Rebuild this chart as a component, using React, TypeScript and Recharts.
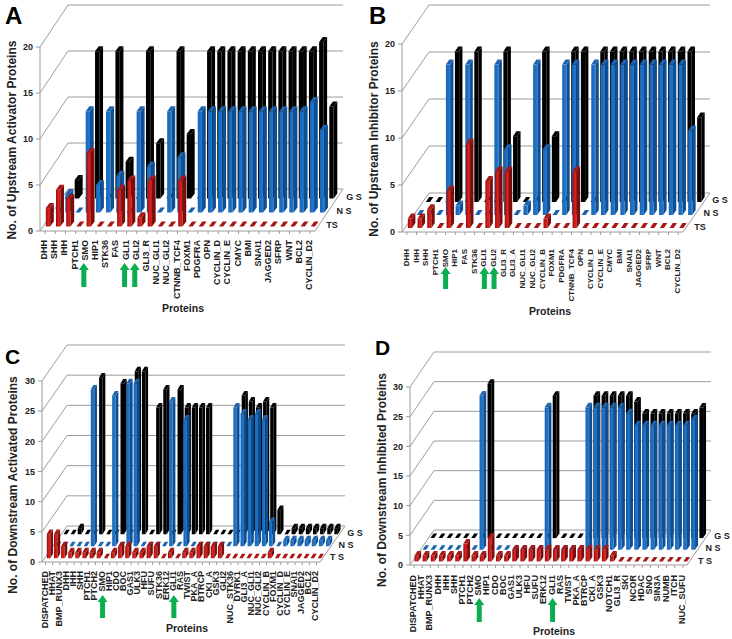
import { BarChart, Bar, XAxis, YAxis, CartesianGrid } from 'recharts';

// Panel A
const proteinsA = ['DHH', 'SHH', 'IHH', 'PTCH1', 'SMO', 'HIP1', 'STK36', 'FAS', 'GLI1', 'GLI2', 'GLI3_R', 'NUC_GLI1', 'NUC_GLI2', 'CTNNB_TCF4', 'FOXM1', 'PDGFRA', 'OPN', 'CYCLIN_D', 'CYCLIN_E', 'CMYC', 'BMI', 'SNAI1', 'JAGGED2', 'SFRP', 'WNT', 'BCL2', 'CYCLIN_D2'];
const tsA = [2, 4, 3, 0, 8, 0, 0, 4, 5, 1, 5, 0, 0, 5, 0, 0, 0, 0, 0, 0, 0, 0, 0, 0, 0, 0, 0];
const nsA = [0, 2, 0, 11, 3, 11, 4, 0, 11, 5, 0, 11, 6, 0, 11, 11, 11, 11, 11, 11, 11, 11, 11, 11, 11, 12, 9];
const gsA = [0, 2, 0, 16, 0, 16, 4, 0, 16, 6, 0, 16, 7, 0, 16, 16, 16, 16, 16, 16, 16, 16, 16, 16, 16, 17, 10];

// Panel B
const proteinsB = ['DHH', 'IHH', 'SHH', 'PTCH1', 'SMO', 'HIP1', 'FAS', 'STK36', 'GLI1', 'GLI2', 'GLI3_R', 'GLI3_A', 'NUC_GLI1', 'NUC_GLI2', 'CYCLIN_B', 'FOXM1', 'PDGFRA', 'CTNNB_TCF4', 'OPN', 'CYCLIN_D', 'CYCLIN_E', 'CMYC', 'BMI', 'SNAI1', 'JAGGED2', 'SFRP', 'WNT', 'BCL2', 'CYCLIN_D2'];
const tsB = [1, 1, 2, 0, 4, 0, 9, 0, 5, 6, 6, 0, 0, 0, 1, 0, 0, 6, 0, 0, 0, 0, 0, 0, 0, 0, 0, 0, 0];
const nsB = [0, 0, 0, 16, 1, 16, 0, 0, 16, 7, 0, 1, 16, 7, 0, 16, 16, 0, 16, 16, 16, 16, 16, 16, 16, 16, 16, 16, 9];
const gsB = [0, 0, 0, 16, 0, 16, 0, 0, 16, 7, 0, 0, 16, 7, 0, 16, 16, 0, 16, 16, 16, 16, 16, 16, 16, 16, 16, 16, 9];

// Panel C
const proteinsC = ['DISPATCHED', 'HHAT', 'BMP_RUNX3', 'DHH', 'IHH', 'SHH', 'PTCH1', 'PTCH2', 'SMO', 'HIP1', 'CDO', 'BOC', 'GAS1', 'ULK3', 'HFU', 'SUFU', 'STK36', 'ERK12', 'GLI1', 'RAS', 'TWIST', 'PKA_A', 'BTRCP', 'CKI_A', 'GSK3', 'GLI2', 'NUC_STK36', 'DYRK1', 'GLI3_A', 'NUC_GLI1', 'NUC_GLI2', 'CYCLIN_B', 'FOXM1', 'CYCLIN_D', 'CYCLIN_E', 'SNAI1', 'JAGGED2', 'BCL2', 'CYCLIN_D2'];
const tsC = [4, 4, 2, 1, 1, 1, 1, 1, 0, 1, 2, 2, 1, 1, 2, 2, 0, 1, 0, 1, 1, 2, 2, 2, 2, 0, 0, 0, 0, 0, 0, 1, 0, 0, 0, 0, 0, 0, 0];
const nsC = [0, 0, 0, 0, 0, 26, 0, 0, 25, 0, 27, 27, 0, 0, 0, 0, 24, 0, 21, 0, 0, 0, 0, 0, 0, 23, 22, 21, 22, 21, 4, 0, 1, 1, 1, 1, 1, 1, 1];
const gsC = [0, 0, 1, 0, 0, 26, 0, 0, 25, 0, 27, 27, 0, 21, 24, 0, 24, 21, 21, 21, 21, 0, 0, 0, 0, 23, 22, 21, 22, 21, 4, 0, 1, 1, 1, 1, 1, 1, 1];

// Panel D
const proteinsD = ['DISPATCHED', 'HHAT', 'BMP_RUNX3', 'DHH', 'IHH', 'SHH', 'PTCH1', 'PTCH2', 'SMO', 'HIP1', 'CDO', 'BOC', 'GAS1', 'ULK3', 'HFU', 'SUFU', 'ERK12', 'GLI1', 'RAS', 'TWIST', 'PKA_A', 'BTRCP', 'CKI_A', 'GSK3', 'NOTCH1', 'GLI3_R', 'SKI', 'NCOR', 'HDAC', 'SNO', 'SIN3A', 'NUMB', 'ITCH', 'NUC_SUFU'];
const tsD = [1, 1, 1, 1, 1, 1, 3, 1, 1, 4, 1, 1, 2, 2, 2, 2, 2, 2, 2, 2, 2, 2, 2, 2, 1, 0, 0, 0, 0, 0, 0, 0, 0, 0];
const nsD = [0, 0, 0, 0, 0, 0, 0, 26, 0, 0, 0, 0, 0, 0, 0, 24, 0, 0, 0, 0, 24, 24, 24, 24, 24, 23, 21, 21, 21, 21, 21, 21, 21, 22];
const gsD = [0, 0, 0, 0, 0, 0, 0, 26, 0, 0, 0, 0, 0, 0, 0, 24, 0, 0, 0, 0, 24, 24, 24, 24, 24, 23, 21, 21, 21, 21, 21, 21, 21, 22];

const FONT = '"Liberation Sans", Arial, sans-serif';
const W = 366;
const H = 320;
const GRID = '#9c9c9c';

const buildRows = (names: string[], ts: number[], ns: number[], gs: number[]) =>
  names.map((name, i) => ({ name, ts: ts[i], ns: ns[i], gs: gs[i] }));

// front face, side face, top face
const seriesFill: any = {
  ts: { side: '#7c0d0d', top: '#a81616' },
  ns: { side: '#0e4f94', top: '#1d63ad' },
  gs: { side: '#000000', top: '#000000' },
};

const Bar3D = ({ x, y, width, height, rowX, rowY, depthX, depthY, series, id }: any) => {
  const l = x + rowX;
  const r = l + width;
  const t = y - rowY;
  const b = t + height;
  const c = seriesFill[series];
  return (
    <g>
      {height > 0 && <rect x={l} y={t} width={width} height={height} fill={`url(#${id}-${series})`} />}
      {height > 0 && <polygon points={`${r},${t} ${r + depthX},${t - depthY} ${r + depthX},${b - depthY} ${r},${b}`} fill={c.side} />}
      <polygon points={`${l},${t} ${l + depthX},${t - depthY} ${r + depthX},${t - depthY} ${r},${t}`} fill={c.top} />
    </g>
  );
};

const ProteinTick = ({ x, y, payload, fontSize, gap, arrows, arrowDx, arrowTop, arrowBottom }: any) => {
  const lx = x - 1;
  const ly = y + gap;
  const ax = x + arrowDx;
  return (
    <g>
      <text x={lx} y={ly} transform={`rotate(-90 ${lx} ${ly})`} dy={3} textAnchor="end" fontSize={fontSize} fontWeight="bold" fontFamily={FONT} fill="#222">
        {payload.value}
      </text>
      {arrows.includes(payload.value) && (
        <polygon
          points={`${ax},${arrowTop} ${ax + 5},${arrowTop + 7} ${ax + 2.5},${arrowTop + 7} ${ax + 2.5},${arrowBottom} ${ax - 2.5},${arrowBottom} ${ax - 2.5},${arrowTop + 7} ${ax - 5},${arrowTop + 7}`}
          fill="#0aae50"
        />
      )}
    </g>
  );
};

const Panel = ({ p }: any) => {
  const grid = (g: any) => (
    <g key={g.key}>
      <line x1={p.x0} y1={g.y1} x2={p.x0 + p.dx} y2={g.y1 - p.dy} stroke={GRID} />
      <line x1={p.x0 + p.dx} y1={g.y1 - p.dy} x2={p.x1 + p.dx} y2={g.y1 - p.dy} stroke={GRID} />
    </g>
  );
  const rowOffset = (row: number) => ({
    rowX: ((row + 0.5) / 3) * p.dx - p.barDepthX / 2,
    rowY: ((row + 0.5) / 3) * p.dy - p.barDepthY / 2,
  });
  const series = ['gs', 'ns', 'ts'];
  return (
    <div style={{ position: 'absolute', left: p.left, top: p.top, width: W, height: H }}>
      <BarChart
        width={W}
        height={H}
        data={p.rows}
        margin={{ top: p.yTop, left: 0, right: W - p.x1, bottom: 0 }}
        barSize={p.barWidth}
        barGap={-p.barWidth}
      >
        <defs>
          <linearGradient id={`${p.id}-ts`} x1="0" x2="1" y1="0" y2="0">
            <stop offset="0%" stopColor="#8d0f0f" />
            <stop offset="60%" stopColor="#e2201a" />
            <stop offset="100%" stopColor="#c21717" />
          </linearGradient>
          <linearGradient id={`${p.id}-ns`} x1="0" x2="1" y1="0" y2="0">
            <stop offset="0%" stopColor="#1764b4" />
            <stop offset="100%" stopColor="#247ad2" />
          </linearGradient>
          <linearGradient id={`${p.id}-gs`} x1="0" x2="1" y1="0" y2="0">
            <stop offset="0%" stopColor="#000" />
            <stop offset="100%" stopColor="#000" />
          </linearGradient>
        </defs>
        <CartesianGrid vertical={false} horizontal={grid} />
        <XAxis
          dataKey="name"
          interval={0}
          height={H - p.yZero}
          tickSize={3}
          tickMargin={0}
          axisLine={{ stroke: GRID }}
          tickLine={{ stroke: GRID }}
          tick={(t: any) => (
            <ProteinTick {...t} fontSize={p.labelSize} gap={p.labelGap} arrows={p.arrows} arrowDx={p.arrowDx} arrowTop={p.arrowTop} arrowBottom={p.arrowBottom} />
          )}
        />
        <YAxis
          type="number"
          width={p.x0}
          domain={[0, p.max]}
          ticks={p.ticks}
          interval={0}
          tickSize={4}
          tickMargin={3}
          axisLine={{ stroke: GRID }}
          tickLine={{ stroke: GRID }}
          tick={{ fontSize: 9, fontWeight: 'bold', fontFamily: FONT, fill: '#222' }}
        />
        {series.map((key, i) => {
          const off = rowOffset(2 - i);
          return (
            <Bar
              key={key}
              dataKey={key}
              isAnimationActive={false}
              shape={(s: any) => (
                <Bar3D {...s} {...off} depthX={p.barDepthX} depthY={p.barDepthY} series={key} id={p.id} />
              )}
            />
          );
        })}
        <line x1={p.x1} y1={p.yZero} x2={p.x1 + p.dx} y2={p.yZero - p.dy} stroke={GRID} />
        <text x={p.letterX} y={p.letterY} fontSize={p.letterSize} fontWeight="bold" fontFamily={FONT} fill="#000">
          {p.letter}
        </text>
        <text
          x={p.yLabelX}
          y={p.yLabelY}
          transform={`rotate(-90 ${p.yLabelX} ${p.yLabelY})`}
          textAnchor="middle"
          fontSize={12}
          fontWeight="bold"
          fontFamily={FONT}
          fill="#222"
        >
          {p.yLabel}
        </text>
        <text x={p.xLabelX} y={p.xLabelY} textAnchor="middle" fontSize={10.5} fontWeight="bold" fontFamily={FONT} fill="#222">
          Proteins
        </text>
        {p.legend.map((l: any) => (
          <text key={l[0]} x={l[1]} y={l[2]} textAnchor="middle" fontSize={9} fontWeight="bold" fontFamily={FONT} fill="#222">
            {l[0]}
          </text>
        ))}
      </BarChart>
    </div>
  );
};

const ticks20 = [0, 5, 10, 15, 20];
const ticks30 = [0, 5, 10, 15, 20, 25, 30];

const panels = [
  {
    id: 'a', letter: 'A', left: 0, top: 0, rows: buildRows(proteinsA, tsA, nsA, gsA),
    x0: 40, x1: 315, yZero: 231, yTop: 47, dx: 28, dy: 42, max: 20, ticks: ticks20,
    barWidth: 4.3, barDepthX: 3.7, barDepthY: 5,
    labelSize: 9, labelGap: 6, arrows: ['SMO', 'GLI1', 'GLI2'], arrowDx: -2, arrowTop: 263, arrowBottom: 287,
    letterX: 5, letterY: 24, letterSize: 24,
    yLabel: 'No. of Upstream Activator Proteins', yLabelX: 16, yLabelY: 140,
    xLabelX: 183, xLabelY: 312,
    legend: [['TS', 332, 228], ['N S', 344, 214], ['G S', 354, 200]],
  },
  {
    id: 'b', letter: 'B', left: 366, top: 0, rows: buildRows(proteinsB, tsB, nsB, gsB),
    x0: 36, x1: 317, yZero: 232, yTop: 44, dx: 27, dy: 39, max: 20, ticks: ticks20,
    barWidth: 4.2, barDepthX: 3.3, barDepthY: 5,
    labelSize: 8, labelGap: 14, arrows: ['SMO', 'GLI1', 'GLI2'], arrowDx: 0, arrowTop: 267, arrowBottom: 289,
    letterX: 3, letterY: 24, letterSize: 24,
    yLabel: 'No. of Upstream Inhibitor Proteins', yLabelX: 12, yLabelY: 139,
    xLabelX: 184, xLabelY: 315,
    legend: [['TS', 334, 230], ['N S', 345, 216], ['G S', 354, 203]],
  },
  {
    id: 'c', letter: 'C', left: 0, top: 320, rows: buildRows(proteinsC, tsC, nsC, gsC),
    x0: 42, x1: 320, yZero: 242, yTop: 61, dx: 25, dy: 36, max: 30, ticks: ticks30,
    barWidth: 3.5, barDepthX: 2.7, barDepthY: 4.5,
    labelSize: 9, labelGap: 6, arrows: ['SMO', 'GLI1'], arrowDx: 0, arrowTop: 275, arrowBottom: 298,
    letterX: 5, letterY: 44, letterSize: 21,
    yLabel: 'No. of Downstream Activated Proteins', yLabelX: 17, yLabelY: 165,
    xLabelX: 187, xLabelY: 312,
    legend: [['T S', 337, 240], ['N S', 346, 228], ['G S', 355, 216]],
  },
  {
    id: 'd', letter: 'D', left: 366, top: 320, rows: buildRows(proteinsD, tsD, nsD, gsD),
    x0: 44, x1: 321, yZero: 245, yTop: 67, dx: 24, dy: 35, max: 30, ticks: ticks30,
    barWidth: 3.7, barDepthX: 3, barDepthY: 4.5,
    labelSize: 9, labelGap: 7, arrows: ['SMO', 'GLI1'], arrowDx: 0, arrowTop: 278, arrowBottom: 302,
    letterX: 9, letterY: 35, letterSize: 21,
    yLabel: 'No. of Downstream Inhibited Proteins', yLabelX: 20, yLabelY: 160,
    xLabelX: 188, xLabelY: 315,
    legend: [['T S', 339, 244], ['N S', 347, 231], ['G S', 356, 219]],
  },
];

export default function App() {
  return (
    <div style={{ position: 'absolute', left: 0, top: 0, width: 732, height: 639, background: '#fff', overflow: 'hidden' }}>
      {panels.map(p => (
        <Panel key={p.id} p={p} />
      ))}
    </div>
  );
}
